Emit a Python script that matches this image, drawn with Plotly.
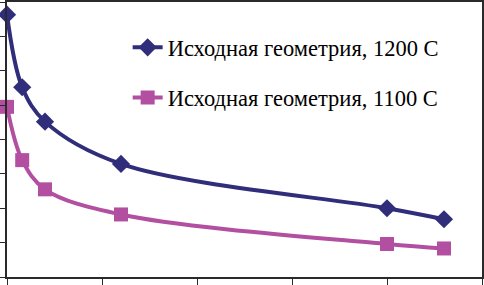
import plotly.graph_objects as go

x_vals = [0, 0.16, 0.4, 1.2, 4.0, 4.6]
y_1200 = [7.63, 5.52, 4.52, 3.29, 2.0, 1.68]
y_1100 = [4.95, 3.40, 2.55, 1.82, 0.96, 0.83]
names = ["Исходная геометрия, 1200 C", "Исходная геометрия, 1100 C"]

blue = "#302d7a"
pink = "#b24fa0"

fig = go.Figure()
fig.add_trace(go.Scatter(
    x=x_vals, y=y_1200, name=names[0], mode="lines+markers",
    line=dict(color=blue, width=4, shape="spline", smoothing=1),
    marker=dict(symbol="diamond", size=14, color=blue),
    legendgroup="a", cliponaxis=False))
fig.add_trace(go.Scatter(
    x=x_vals, y=y_1100, name=names[1], mode="lines+markers",
    line=dict(color=pink, width=4, shape="spline", smoothing=1),
    marker=dict(symbol="square", size=14, color=pink),
    legendgroup="b", cliponaxis=False))

axis_common = dict(showgrid=False, zeroline=False, showticklabels=False,
                   showline=True, linecolor="#2a2a2a", linewidth=2, mirror=True,
                   ticks="outside", ticklen=7, tickcolor="#2a2a2a", tickwidth=1,
                   automargin=False)
fig.update_xaxes(range=[0, 5], dtick=1, **axis_common)
fig.update_yaxes(range=[0, 8], dtick=1, **axis_common)

fig.update_layout(
    width=484, height=285,
    margin=dict(l=7, r=2, t=2, b=8, pad=0, autoexpand=False),
    paper_bgcolor="white", plot_bgcolor="white",
    showlegend=True,
    legend=dict(x=0.254, y=0.912, xanchor="left", yanchor="top",
                bgcolor="rgba(0,0,0,0)", tracegroupgap=18,
                font=dict(family="Liberation Serif, serif", size=22.5, color="black")),
)

fig.write_html("out.html", config={"displayModeBar": False},
               post_script="document.body.style.margin='0';document.body.style.overflow='hidden';")
